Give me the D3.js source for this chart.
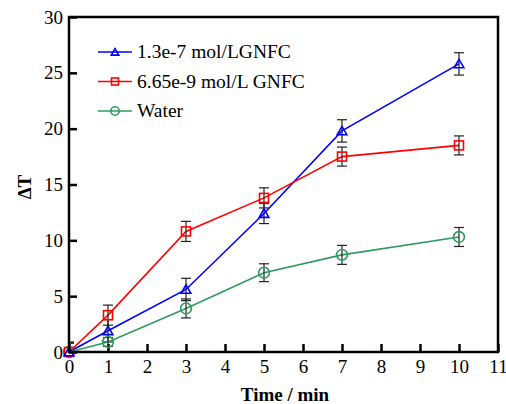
<!DOCTYPE html>
<html>
<head>
  <meta charset='utf-8'>
  <title>dT vs time</title>
  <script src="https://cdnjs.cloudflare.com/ajax/libs/d3/7.8.5/d3.min.js"></script>
  <style>
    body { margin: 0; background: #fff; }
  </style>
</head>
<body>
  <svg width="506" height="404" id="chart"></svg>
  <script>
    // data
    const times = [0, 1, 3, 5, 7, 10];
    const lgnfc = [0, 1.9, 5.6, 12.4, 19.8, 25.8];
    const lgnfcErr = [0.9, 1.0, 1.0, 0.9, 1.0, 1.0];
    const gnfc = [0, 3.3, 10.8, 13.8, 17.5, 18.5];
    const gnfcErr = [0.8, 0.9, 0.9, 0.9, 0.85, 0.85];
    const water = [0, 0.9, 3.9, 7.1, 8.7, 10.3];
    const waterErr = [0.8, 0.4, 0.85, 0.8, 0.85, 0.85];
    const xTicks = d3.range(0, 12);
    const yTicks = [0, 5, 10, 15, 20, 25, 30];

    const series = [
      { name: '1.3e-7 mol/LGNFC', vals: lgnfc, err: lgnfcErr, color: '#0000ff', mark: 'tri' },
      { name: '6.65e-9 mol/L GNFC', vals: gnfc, err: gnfcErr, color: '#ff0000', mark: 'sq' },
      { name: 'Water', vals: water, err: waterErr, color: '#2e9a5f', mark: 'circ' }
    ];

    const FONT = '"Liberation Serif", "Times New Roman", serif';
    const svg = d3.select('#chart').attr('font-family', FONT);
    const mLeft = 69, mRight = 498, mTop = 17, mBottom = 352;

    const x = d3.scaleLinear().domain([0, 11]).range([mLeft, mRight]);
    const y = d3.scaleLinear().domain([0, 30]).range([mBottom, mTop]);

    svg.append('clipPath').attr('id', 'clip')
      .append('rect').attr('x', mLeft).attr('y', mTop)
      .attr('width', mRight - mLeft).attr('height', mBottom - mTop);

    // axes, ticks pointing in
    svg.append('g').attr('transform', `translate(0,${mBottom})`)
      .call(d3.axisBottom(x).tickValues(xTicks).tickSize(-8).tickPadding(8).tickFormat(d3.format('d')))
      .attr('font-family', FONT)
      .call(g => g.select('.domain').remove())
      .call(g => g.selectAll('line').attr('stroke-width', 2.5))
      .call(g => g.selectAll('text').attr('font-size', 19).attr('fill', '#000'));

    svg.append('g').attr('transform', `translate(${mLeft},0)`)
      .call(d3.axisLeft(y).tickValues(yTicks).tickSize(-8).tickPadding(6))
      .attr('font-family', FONT)
      .call(g => g.select('.domain').remove())
      .call(g => g.selectAll('line').attr('stroke-width', 2.5))
      .call(g => g.selectAll('text').attr('font-size', 19).attr('fill', '#000'));

    const plot = svg.append('g').attr('clip-path', 'url(#clip)');

    const line = d3.line().x(d => x(d[0])).y(d => y(d[1]));

    series.forEach(s => {
      const pts = times.map((t, i) => [t, s.vals[i], s.err[i]]);
      plot.append('path').datum(pts)
        .attr('d', line).attr('fill', 'none')
        .attr('stroke', s.color).attr('stroke-width', 1.6);

      // error bars
      const eb = plot.append('g').attr('stroke', '#222').attr('stroke-width', 1.2);
      pts.forEach(p => {
        const cx = x(p[0]);
        eb.append('line').attr('x1', cx).attr('x2', cx).attr('y1', y(p[1] - p[2])).attr('y2', y(p[1] + p[2]));
        eb.append('line').attr('x1', cx - 5).attr('x2', cx + 5).attr('y1', y(p[1] - p[2])).attr('y2', y(p[1] - p[2]));
        eb.append('line').attr('x1', cx - 5).attr('x2', cx + 5).attr('y1', y(p[1] + p[2])).attr('y2', y(p[1] + p[2]));
      });
    });

    function drawMark(g, kind, cx, cy, color, sz) {
      if (kind === 'tri') {
        g.append('path').attr('d', d3.symbol(d3.symbolTriangle, sz * sz * 0.5)())
          .attr('transform', `translate(${cx},${cy + 1})`)
          .attr('fill', 'none').attr('stroke', color).attr('stroke-width', 1.6);
      } else if (kind === 'sq') {
        g.append('rect').attr('x', cx - sz / 2).attr('y', cy - sz / 2).attr('width', sz).attr('height', sz)
          .attr('fill', 'none').attr('stroke', color).attr('stroke-width', 1.6);
      } else {
        g.append('circle').attr('cx', cx).attr('cy', cy).attr('r', sz * 0.6)
          .attr('fill', 'none').attr('stroke', color).attr('stroke-width', 1.6);
      }
    }

    // draw water first so blue marks sit on top at origin
    series.slice().reverse().forEach(s => {
      times.forEach((t, i) => drawMark(svg, s.mark, x(t), y(s.vals[i]), s.color, 9));
    });

    // frame
    svg.append('rect').attr('x', mLeft).attr('y', mTop)
      .attr('width', mRight - mLeft).attr('height', mBottom - mTop)
      .attr('fill', 'none').attr('stroke', '#000').attr('stroke-width', 2.5);

    // legend
    const leg = svg.append('g');
    series.forEach((s, i) => {
      const ly = 52 + i * 29.5;
      leg.append('line').attr('x1', 98).attr('x2', 132).attr('y1', ly).attr('y2', ly)
        .attr('stroke', s.color).attr('stroke-width', 1.6);
      drawMark(leg, s.mark, 115, ly, s.color, 7);
      leg.append('text').attr('x', 137).attr('y', ly + 6).attr('font-size', 19.5).text(s.name);
    });

    // axis titles
    svg.append('text').attr('x', 285).attr('y', 401).attr('text-anchor', 'middle')
      .attr('font-size', 19).attr('font-weight', 'bold').text('Time / min');
    svg.append('text').attr('transform', 'translate(31,187) rotate(-90)')
      .attr('text-anchor', 'middle').attr('font-size', 19).attr('font-weight', 'bold').text('ΔT');
  </script>
</body>
</html>
